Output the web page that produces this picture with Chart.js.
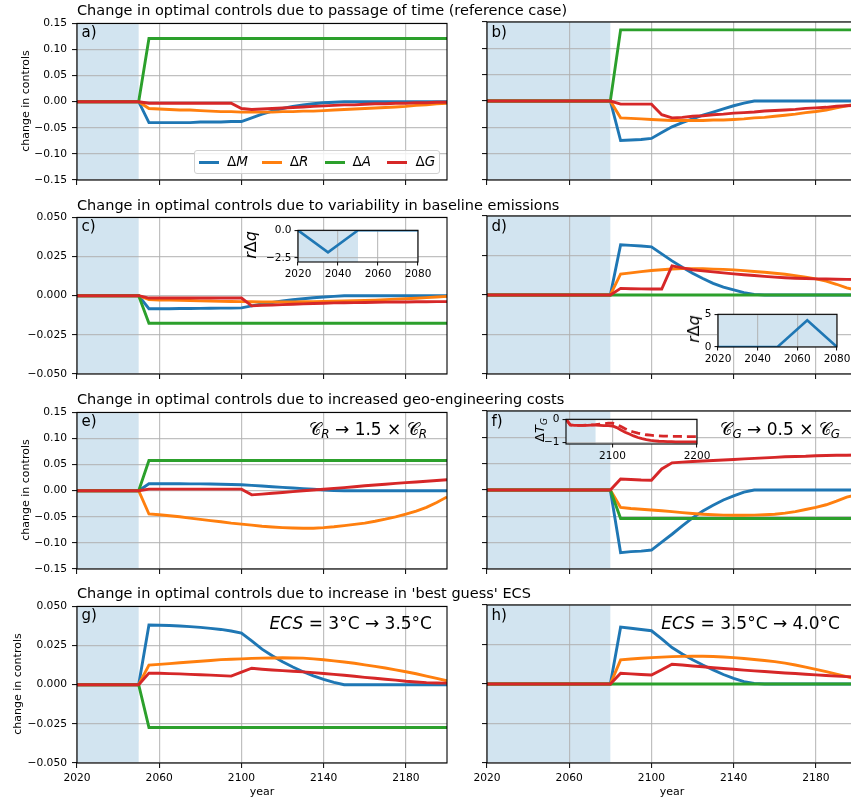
<!DOCTYPE html>
<html>
<head>
<meta charset="utf-8">
<script src="https://cdn.jsdelivr.net/npm/chart.js@4.4.0/dist/chart.umd.min.js"></script>
<style>
  html, body { margin: 0; padding: 0; width: 851px; height: 802px; overflow: hidden; background: #fff; }
  body { position: relative; font-family: 'DejaVu Sans', sans-serif; }
  canvas { position: absolute; }
  .txt { position: absolute; white-space: nowrap; color: #000; line-height: 1; z-index: 5; }
  .sub { font-size: 0.7em; position: relative; top: 0.3em; font-style: italic; }
  .legend { position: absolute; z-index: 5; background: rgba(255,255,255,0.8); border: 1px solid #d0d0d0; border-radius: 3px; box-sizing: border-box; }
  .legend .ln { position: absolute; height: 3px; width: 20px; }
  .legend .lt { position: absolute; font-size: 13.5px; line-height: 1; white-space: nowrap; }
</style>
</head>
<body>
<script>
// time axis, 5-year steps
const years = [2020, 2025, 2030, 2035, 2040, 2045, 2050, 2055, 2060, 2065, 2070, 2075, 2080, 2085, 2090, 2095, 2100, 2105, 2110, 2115, 2120, 2125, 2130, 2135, 2140, 2145, 2150, 2155, 2160, 2165, 2170, 2175, 2180, 2185, 2190, 2195, 2200];
const xTicks = [2020, 2060, 2100, 2140, 2180];
const yTicksWide = [-0.15, -0.10, -0.05, 0, 0.05, 0.10, 0.15];
const yTicksNarrow = [-0.05, -0.025, 0, 0.025, 0.05];

// a) passage of time, reference case
const aM = [0, 0, 0, 0, 0, 0, 0, -0.040, -0.040, -0.040, -0.040, -0.040, -0.039, -0.039, -0.039, -0.038, -0.038, -0.031, -0.024, -0.018, -0.013, -0.009, -0.006, -0.004, -0.002, -0.001, 0, 0, 0, 0, 0, 0, 0, 0, 0, 0, 0];
const aR = [0, 0, 0, 0, 0, 0, 0, -0.013, -0.014, -0.015, -0.016, -0.016, -0.017, -0.018, -0.019, -0.019, -0.020, -0.020, -0.020, -0.020, -0.019, -0.019, -0.018, -0.018, -0.017, -0.016, -0.015, -0.014, -0.013, -0.012, -0.011, -0.010, -0.009, -0.007, -0.006, -0.004, -0.003];
const aA = [0, 0, 0, 0, 0, 0, 0, 0.121, 0.121, 0.121, 0.121, 0.121, 0.121, 0.121, 0.121, 0.121, 0.121, 0.121, 0.121, 0.121, 0.121, 0.121, 0.121, 0.121, 0.121, 0.121, 0.121, 0.121, 0.121, 0.121, 0.121, 0.121, 0.121, 0.121, 0.121, 0.121, 0.121];
const aG = [0, 0, 0, 0, 0, 0, 0, -0.003, -0.003, -0.003, -0.003, -0.003, -0.003, -0.003, -0.003, -0.003, -0.013, -0.015, -0.014, -0.013, -0.012, -0.011, -0.010, -0.009, -0.008, -0.007, -0.006, -0.006, -0.005, -0.004, -0.004, -0.003, -0.003, -0.002, -0.002, -0.001, -0.001];

// b)
const bM = [0, 0, 0, 0, 0, 0, 0, 0, 0, 0, 0, 0, 0, -0.075, -0.074, -0.073, -0.071, -0.060, -0.049, -0.041, -0.034, -0.027, -0.021, -0.015, -0.009, -0.004, 0, 0, 0, 0, 0, 0, 0, 0, 0, 0, 0];
const bR = [0, 0, 0, 0, 0, 0, 0, 0, 0, 0, 0, 0, 0, -0.032, -0.033, -0.034, -0.035, -0.036, -0.037, -0.037, -0.037, -0.037, -0.036, -0.036, -0.035, -0.034, -0.032, -0.031, -0.029, -0.027, -0.025, -0.022, -0.020, -0.017, -0.013, -0.009, -0.006];
const bA = [0, 0, 0, 0, 0, 0, 0, 0, 0, 0, 0, 0, 0, 0.135, 0.135, 0.135, 0.135, 0.135, 0.135, 0.135, 0.135, 0.135, 0.135, 0.135, 0.135, 0.135, 0.135, 0.135, 0.135, 0.135, 0.135, 0.135, 0.135, 0.135, 0.135, 0.135, 0.135];
const bG = [0, 0, 0, 0, 0, 0, 0, 0, 0, 0, 0, 0, 0, -0.006, -0.006, -0.006, -0.006, -0.026, -0.032, -0.031, -0.029, -0.028, -0.026, -0.025, -0.023, -0.022, -0.021, -0.019, -0.018, -0.017, -0.016, -0.014, -0.013, -0.012, -0.010, -0.009, -0.008];

// c) variability in baseline emissions
const cM = [0, 0, 0, 0, 0, 0, 0, -0.0083, -0.0083, -0.0083, -0.0082, -0.0082, -0.0081, -0.0080, -0.0079, -0.0079, -0.0078, -0.0065, -0.0053, -0.0043, -0.0034, -0.0026, -0.0019, -0.0013, -0.0008, -0.0004, 0, 0, 0, 0, 0, 0, 0, 0, 0, 0, 0];
const cR = [0, 0, 0, 0, 0, 0, 0, -0.0025, -0.0027, -0.0028, -0.0030, -0.0031, -0.0033, -0.0034, -0.0036, -0.0037, -0.0038, -0.0039, -0.0040, -0.0040, -0.0040, -0.0040, -0.0039, -0.0038, -0.0037, -0.0035, -0.0034, -0.0032, -0.0030, -0.0028, -0.0025, -0.0022, -0.0019, -0.0016, -0.0012, -0.0008, -0.0004];
const cA = [0, 0, 0, 0, 0, 0, 0, -0.0176, -0.0176, -0.0176, -0.0176, -0.0176, -0.0176, -0.0176, -0.0176, -0.0176, -0.0176, -0.0176, -0.0176, -0.0176, -0.0176, -0.0176, -0.0176, -0.0176, -0.0176, -0.0176, -0.0176, -0.0176, -0.0176, -0.0176, -0.0176, -0.0176, -0.0176, -0.0176, -0.0176, -0.0176, -0.0176];
const cG = [0, 0, 0, 0, 0, 0, 0, -0.0015, -0.0015, -0.0015, -0.0015, -0.0015, -0.0015, -0.0015, -0.0015, -0.0015, -0.0015, -0.0065, -0.0062, -0.0060, -0.0057, -0.0055, -0.0052, -0.0050, -0.0048, -0.0046, -0.0045, -0.0044, -0.0043, -0.0042, -0.0041, -0.0040, -0.0040, -0.0039, -0.0039, -0.0038, -0.0038];

// d)
const dM = [0, 0, 0, 0, 0, 0, 0, 0, 0, 0, 0, 0, 0, 0.0318, 0.0314, 0.0310, 0.0305, 0.0260, 0.0216, 0.0175, 0.0138, 0.0104, 0.0074, 0.0050, 0.0032, 0.0015, 0.0004, 0, 0, 0, 0, 0, 0, 0, 0, 0, 0];
const dR = [0, 0, 0, 0, 0, 0, 0, 0, 0, 0, 0, 0, 0, 0.0133, 0.0140, 0.0148, 0.0155, 0.0160, 0.0165, 0.0167, 0.0167, 0.0166, 0.0164, 0.0162, 0.0159, 0.0154, 0.0149, 0.0144, 0.0138, 0.0131, 0.0123, 0.0113, 0.0102, 0.0088, 0.0068, 0.0045, 0.0030];
const dA = [0, 0, 0, 0, 0, 0, 0, 0, 0, 0, 0, 0, 0, 0, 0, 0, 0, 0, 0, 0, 0, 0, 0, 0, 0, 0, 0, 0, 0, 0, 0, 0, 0, 0, 0, 0, 0];
const dG = [0, 0, 0, 0, 0, 0, 0, 0, 0, 0, 0, 0, 0, 0.0042, 0.0040, 0.0039, 0.0038, 0.0038, 0.0184, 0.0172, 0.0160, 0.0153, 0.0146, 0.0140, 0.0134, 0.0128, 0.0123, 0.0118, 0.0113, 0.0109, 0.0106, 0.0104, 0.0102, 0.0101, 0.0100, 0.0099, 0.0098];

// e) geo-engineering cost C_R x 1.5
const eM = [0, 0, 0, 0, 0, 0, 0, 0.0134, 0.0134, 0.0133, 0.0132, 0.0131, 0.0130, 0.0128, 0.0125, 0.0120, 0.0115, 0.0103, 0.0090, 0.0077, 0.0064, 0.0052, 0.0040, 0.0027, 0.0014, 0.0005, 0, 0, 0, 0, 0, 0, 0, 0, 0, 0, 0];
const eR = [0, 0, 0, 0, 0, 0, 0, -0.0446, -0.046, -0.048, -0.050, -0.0525, -0.055, -0.0573, -0.0595, -0.062, -0.064, -0.066, -0.068, -0.0695, -0.0707, -0.0715, -0.072, -0.0718, -0.0707, -0.069, -0.0668, -0.0645, -0.062, -0.0585, -0.0545, -0.050, -0.045, -0.039, -0.032, -0.0225, -0.012];
const eA = [0, 0, 0, 0, 0, 0, 0, 0.058, 0.058, 0.058, 0.058, 0.058, 0.058, 0.058, 0.058, 0.058, 0.058, 0.058, 0.058, 0.058, 0.058, 0.058, 0.058, 0.058, 0.058, 0.058, 0.058, 0.058, 0.058, 0.058, 0.058, 0.058, 0.058, 0.058, 0.058, 0.058, 0.058];
const eG = [0, 0, 0, 0, 0, 0, 0, 0.003, 0.003, 0.003, 0.003, 0.003, 0.003, 0.003, 0.003, 0.003, 0.003, -0.008, -0.0066, -0.0049, -0.0033, -0.0017, -0.0002, 0.0013, 0.0029, 0.0045, 0.006, 0.0077, 0.0094, 0.011, 0.0125, 0.014, 0.0155, 0.0168, 0.018, 0.0195, 0.021];

// f) C_G x 0.5
const fM = [0, 0, 0, 0, 0, 0, 0, 0, 0, 0, 0, 0, 0, -0.119, -0.117, -0.116, -0.114, -0.099, -0.084, -0.068, -0.053, -0.040, -0.029, -0.019, -0.011, -0.004, 0, 0, 0, 0, 0, 0, 0, 0, 0, 0, 0];
const fR = [0, 0, 0, 0, 0, 0, 0, 0, 0, 0, 0, 0, 0, -0.033, -0.035, -0.0365, -0.038, -0.0395, -0.041, -0.043, -0.0446, -0.046, -0.047, -0.0477, -0.048, -0.048, -0.0478, -0.047, -0.046, -0.044, -0.041, -0.037, -0.033, -0.028, -0.021, -0.0135, -0.009];
const fA = [0, 0, 0, 0, 0, 0, 0, 0, 0, 0, 0, 0, 0, -0.054, -0.054, -0.054, -0.054, -0.054, -0.054, -0.054, -0.054, -0.054, -0.054, -0.054, -0.054, -0.054, -0.054, -0.054, -0.054, -0.054, -0.054, -0.054, -0.054, -0.054, -0.054, -0.054, -0.054];
const fG = [0, 0, 0, 0, 0, 0, 0, 0, 0, 0, 0, 0, 0, 0.021, 0.020, 0.019, 0.0185, 0.040, 0.0516, 0.053, 0.054, 0.055, 0.056, 0.057, 0.058, 0.059, 0.060, 0.061, 0.062, 0.063, 0.0635, 0.064, 0.065, 0.0655, 0.066, 0.066, 0.0665];

// g) ECS 3 -> 3.5
const gM = [0, 0, 0, 0, 0, 0, 0, 0.0381, 0.0380, 0.0378, 0.0375, 0.0371, 0.0366, 0.0360, 0.0353, 0.0343, 0.0330, 0.0280, 0.0227, 0.0185, 0.0146, 0.0113, 0.0083, 0.0056, 0.0034, 0.0015, 0, 0, 0, 0, 0, 0, 0, 0, 0, 0, 0];
const gR = [0, 0, 0, 0, 0, 0, 0, 0.0125, 0.0130, 0.0135, 0.0140, 0.0145, 0.0150, 0.0155, 0.0160, 0.0163, 0.0165, 0.0168, 0.0170, 0.0171, 0.0172, 0.0171, 0.0170, 0.0165, 0.0159, 0.0152, 0.0145, 0.0137, 0.0127, 0.0117, 0.0107, 0.0095, 0.0083, 0.0070, 0.0055, 0.0040, 0.0025];
const gA = [0, 0, 0, 0, 0, 0, 0, -0.0273, -0.0273, -0.0273, -0.0273, -0.0273, -0.0273, -0.0273, -0.0273, -0.0273, -0.0273, -0.0273, -0.0273, -0.0273, -0.0273, -0.0273, -0.0273, -0.0273, -0.0273, -0.0273, -0.0273, -0.0273, -0.0273, -0.0273, -0.0273, -0.0273, -0.0273, -0.0273, -0.0273, -0.0273, -0.0273];
const gG = [0, 0, 0, 0, 0, 0, 0, 0.0074, 0.0073, 0.0071, 0.0069, 0.0066, 0.0064, 0.0061, 0.0058, 0.0055, 0.0080, 0.0105, 0.0099, 0.0094, 0.0090, 0.0086, 0.0082, 0.0077, 0.0072, 0.0066, 0.0060, 0.0054, 0.0047, 0.0041, 0.0035, 0.0029, 0.0022, 0.0017, 0.0013, 0.0011, 0.0010];

// h) ECS 3.5 -> 4.0
const hM = [0, 0, 0, 0, 0, 0, 0, 0, 0, 0, 0, 0, 0, 0.0360, 0.0353, 0.0345, 0.0337, 0.0285, 0.0231, 0.0190, 0.0153, 0.0120, 0.0089, 0.0060, 0.0036, 0.0015, 0.0004, 0, 0, 0, 0, 0, 0, 0, 0, 0, 0];
const hR = [0, 0, 0, 0, 0, 0, 0, 0, 0, 0, 0, 0, 0, 0.0153, 0.0158, 0.0163, 0.0167, 0.0170, 0.0173, 0.0175, 0.0176, 0.0176, 0.0174, 0.0171, 0.0167, 0.0161, 0.0155, 0.0149, 0.0142, 0.0132, 0.0120, 0.0107, 0.0093, 0.0078, 0.0063, 0.0047, 0.0030];
const hA = [0, 0, 0, 0, 0, 0, 0, 0, 0, 0, 0, 0, 0, 0, 0, 0, 0, 0, 0, 0, 0, 0, 0, 0, 0, 0, 0, 0, 0, 0, 0, 0, 0, 0, 0, 0, 0];
const hG = [0, 0, 0, 0, 0, 0, 0, 0, 0, 0, 0, 0, 0, 0.0068, 0.0064, 0.0060, 0.0057, 0.0090, 0.0125, 0.0120, 0.0114, 0.0109, 0.0103, 0.0098, 0.0093, 0.0088, 0.0083, 0.0079, 0.0074, 0.0070, 0.0066, 0.0062, 0.0058, 0.0054, 0.0050, 0.0047, 0.0045];

// insets c) and d): r*dq perturbation
const dqYears = [2020, 2035, 2050, 2065, 2080];
const dqLow = [0, -2.0, 0, 0, 0];
const dqHigh = [0, 0, 0, 4.1, 0];
const dqTicks = [2020, 2040, 2060, 2080];

// inset f): temperature change from geo-engineering
const tgYears = [2045, 2050, 2055, 2060, 2065, 2070, 2075, 2080, 2085, 2090, 2095, 2100, 2105, 2110, 2115, 2120, 2125, 2130, 2135, 2140, 2145, 2150, 2155, 2160, 2165, 2170, 2175, 2180, 2185, 2190, 2195, 2200];
const tgSolid = [0, -0.24, -0.26, -0.26, -0.26, -0.26, -0.25, -0.25, -0.26, -0.27, -0.27, -0.29, -0.36, -0.46, -0.56, -0.64, -0.72, -0.79, -0.84, -0.88, -0.91, -0.93, -0.95, -0.96, -0.97, -0.97, -0.98, -0.98, -0.98, -0.98, -0.98, -0.98];
const tgDashed = [0, -0.24, -0.26, -0.26, -0.26, -0.25, -0.24, -0.23, -0.21, -0.19, -0.17, -0.17, -0.22, -0.31, -0.41, -0.50, -0.55, -0.60, -0.64, -0.67, -0.69, -0.71, -0.72, -0.73, -0.73, -0.74, -0.74, -0.74, -0.75, -0.75, -0.75, -0.75];

const FONT = 'DejaVu Sans';
const BLUE = '#1f77b4', ORANGE = '#ff7f0e', GREEN = '#2ca02c', RED = '#d62728';
const GRID = 'rgba(176,176,176,0.8)';

function fmt(v, dec) {
    return v.toFixed(dec).replace('-', '\u2212');
}

function addCanvas(left, top, w, h, z) {
    const c = document.createElement('canvas');
    c.width = w; c.height = h;
    c.style.left = left + 'px';
    c.style.top = top + 'px';
    c.style.width = w + 'px';
    c.style.height = h + 'px';
    c.style.zIndex = z;
    document.body.appendChild(c);
    return c;
}

// shaded "known period" band (+ white background for insets)
function shadePlugin(from, to, white) {
    return {
        id: 'shade',
        beforeDraw(chart) {
            const a = chart.chartArea, ctx = chart.ctx, x = chart.scales.x;
            ctx.save();
            if (white) {
                ctx.fillStyle = '#fff';
                ctx.fillRect(a.left, a.top, a.right - a.left, a.bottom - a.top);
            }
            const x0 = Math.max(a.left, x.getPixelForValue(from));
            const x1 = Math.min(a.right, x.getPixelForValue(to));
            ctx.fillStyle = 'rgba(31,119,180,0.2)';
            ctx.fillRect(x0, a.top, x1 - x0, a.bottom - a.top);
            ctx.restore();
        }
    };
}

const framePlugin = {
    id: 'frame',
    afterDatasetsDraw(chart) {
        const a = chart.chartArea, ctx = chart.ctx;
        ctx.save();
        ctx.strokeStyle = '#000';
        ctx.lineWidth = 1.1;
        ctx.strokeRect(a.left, a.top, a.right - a.left, a.bottom - a.top);
        ctx.restore();
    }
};

function axisOpts(o) {
    return {
        type: 'linear',
        min: o.min,
        max: o.max,
        afterBuildTicks: s => { s.ticks = o.ticks.map(v => ({ value: v })); },
        afterFit: s => { if (o.width) s.width = o.width; if (o.height) s.height = o.height; },
        ticks: {
            display: o.labels,
            autoSkip: false,
            maxRotation: 0,
            padding: o.pad,
            color: '#000',
            font: { family: FONT, size: o.size },
            callback: v => fmt(v, o.dec)
        },
        grid: { color: GRID, lineWidth: 1.2, tickLength: o.tick, tickColor: '#000', tickWidth: 1 },
        border: { display: false }
    };
}

function lineSet(xs, ys, color, order, width, dash) {
    return {
        data: xs.map((x, i) => ({ x: x, y: ys[i] })),
        borderColor: color,
        borderWidth: width,
        borderDash: dash || [],
        pointRadius: 0,
        tension: 0,
        fill: false,
        order: order
    };
}

// main panel: plot area at (left, top), 370 x 158
function panel(left, top, s, yTicks, yDec, yLabels, xLabels, shadeTo) {
    const canvas = addCanvas(left - 70, top - 10, 450, 208, 1);
    const datasets = [
        lineSet(years, s[0], BLUE, 4, 2.9),
        lineSet(years, s[1], ORANGE, 3, 2.9),
        lineSet(years, s[2], GREEN, 2, 2.9),
        lineSet(years, s[3], RED, 1, 2.9)
    ];
    new Chart(canvas, {
        type: 'line',
        data: { datasets },
        options: {
            responsive: false,
            animation: false,
            events: [],
            layout: { padding: { top: 10, right: 10, left: 0, bottom: 0 } },
            plugins: { legend: { display: false }, tooltip: { enabled: false } },
            scales: {
                x: axisOpts({ min: 2020, max: 2200, ticks: xTicks, dec: 0, labels: xLabels, size: 10.7, pad: 4, tick: 5, height: 40 }),
                y: axisOpts({ min: yTicks[0], max: yTicks[yTicks.length - 1], ticks: yTicks, dec: yDec, labels: yLabels, size: 10.7, pad: 5, tick: 5, width: 70 })
            }
        },
        plugins: [shadePlugin(2020, shadeTo, false), framePlugin]
    });
}

function inset(left, top, w, h, sets, xr, yr, shade) {
    const canvas = addCanvas(left - 40, top - 8, w + 58, h + 30, 3);
    new Chart(canvas, {
        type: 'line',
        data: { datasets: sets },
        options: {
            responsive: false,
            animation: false,
            events: [],
            layout: { padding: { top: 8, right: 18, left: 0, bottom: 0 } },
            plugins: { legend: { display: false }, tooltip: { enabled: false } },
            scales: {
                x: axisOpts({ min: xr[0], max: xr[1], ticks: xr[2], dec: 0, labels: true, size: 10.5, pad: 2, tick: 3.5, height: 22 }),
                y: axisOpts({ min: yr[0], max: yr[1], ticks: yr[2], dec: yr[3], labels: true, size: 10.5, pad: 3, tick: 3.5, width: 40 })
            }
        },
        plugins: [shadePlugin(shade[0], shade[1], true), framePlugin]
    });
}

const colL = 77, colR = 487;
const rows = [22, 216, 411, 605];

panel(colL, rows[0], [aM, aR, aA, aG], yTicksWide, 2, true, false, 2050);
panel(colR, rows[0], [bM, bR, bA, bG], yTicksWide, 2, false, false, 2080);
panel(colL, rows[1], [cM, cR, cA, cG], yTicksNarrow, 3, true, false, 2050);
panel(colR, rows[1], [dM, dR, dA, dG], yTicksNarrow, 3, false, false, 2080);
panel(colL, rows[2], [eM, eR, eA, eG], yTicksWide, 2, true, false, 2050);
panel(colR, rows[2], [fM, fR, fA, fG], yTicksWide, 2, false, false, 2080);
panel(colL, rows[3], [gM, gR, gA, gG], yTicksNarrow, 3, true, true, 2050);
panel(colR, rows[3], [hM, hR, hA, hG], yTicksNarrow, 3, false, true, 2080);

inset(298, 229, 120, 33, [lineSet(dqYears, dqLow, BLUE, 1, 2.6)],
      [2020, 2080, dqTicks], [-2.87, 0, [-2.5, 0], 1], [2020, 2050]);
inset(718, 313, 119, 34, [lineSet(dqYears, dqHigh, BLUE, 1, 2.6)],
      [2020, 2080, dqTicks], [0, 5, [0, 5], 0], [2020, 2080]);
inset(566, 418, 131, 26, [lineSet(tgYears, tgDashed, RED, 2, 2.8, [9, 5]), lineSet(tgYears, tgSolid, RED, 1, 2.8)],
      [2045, 2200, [2100, 2200]], [-1.07, 0, [-1, 0], 0], [2045, 2080]);

// ---- text ----
function label(html, x, base, size, align) {
    const d = document.createElement('div');
    d.className = 'txt';
    d.innerHTML = html;
    d.style.fontSize = size + 'px';
    d.style.left = x + 'px';
    d.style.top = (base - 0.846 * size) + 'px';
    if (align === 'right') d.style.transform = 'translateX(-100%)';
    if (align === 'center') d.style.transform = 'translateX(-50%)';
    document.body.appendChild(d);
}
function vlabel(html, cx, cy, size) {
    const d = document.createElement('div');
    d.className = 'txt';
    d.innerHTML = html;
    d.style.fontSize = size + 'px';
    d.style.left = cx + 'px';
    d.style.top = cy + 'px';
    d.style.transform = 'translate(-50%, -50%) rotate(-90deg)';
    document.body.appendChild(d);
}

const rowTitles = [
    'Change in optimal controls due to passage of time (reference case)',
    'Change in optimal controls due to variability in baseline emissions',
    'Change in optimal controls due to increased geo-engineering costs',
    "Change in optimal controls due to increase in 'best guess' ECS"
];
const titleBase = [15.7, 210, 404, 598.3];
rowTitles.forEach((t, i) => label(t, colL, titleBase[i], 14.5));

const letters = ['a)', 'b)', 'c)', 'd)', 'e)', 'f)', 'g)', 'h)'];
letters.forEach((t, i) => label(t, (i % 2 ? colR : colL) + 4.5, rows[Math.floor(i / 2)] + 15.5, 15));

vlabel('change in controls', 25, rows[0] + 79, 11);
vlabel('change in controls', 25, rows[2] + 79, 11);
vlabel('change in controls', 17, rows[3] + 79, 11);
label('year', colL + 185, 795, 11, 'center');
label('year', colR + 185, 795, 11, 'center');

const CAL = '\u{1D49E}';
label(CAL + '<span class="sub">R</span> \u2192 1.5 \u00d7 ' + CAL + '<span class="sub">R</span>', 427, 435, 17, 'right');
label(CAL + '<span class="sub">G</span> \u2192 0.5 \u00d7 ' + CAL + '<span class="sub">G</span>', 840, 435, 17, 'right');
label('<i>ECS</i> = 3\u00b0C \u2192 3.5\u00b0C', 432, 629, 17, 'right');
label('<i>ECS</i> = 3.5\u00b0C \u2192 4.0\u00b0C', 840, 629, 17, 'right');

vlabel('<i>r</i>\u0394<i>q</i>', 251, 245, 16);
vlabel('<i>r</i>\u0394<i>q</i>', 694, 329, 16);
vlabel('\u0394<i>T</i><span class="sub">G</span>', 540, 430, 13);

// legend in panel a
const legend = document.createElement('div');
legend.className = 'legend';
legend.style.cssText += 'left:194px;top:150px;width:246px;height:24px;';
const legItems = [['M', BLUE], ['R', ORANGE], ['A', GREEN], ['G', RED]];
legItems.forEach((it, i) => {
    const ln = document.createElement('div');
    ln.className = 'ln';
    ln.style.left = (4 + 62.8 * i) + 'px';
    ln.style.top = '9.5px';
    ln.style.background = it[1];
    legend.appendChild(ln);
    const lt = document.createElement('div');
    lt.className = 'lt';
    lt.style.left = (32 + 62.8 * i) + 'px';
    lt.style.top = '4px';
    lt.innerHTML = '\u0394<i>' + it[0] + '</i>';
    legend.appendChild(lt);
});
document.body.appendChild(legend);
</script>
</body>
</html>
